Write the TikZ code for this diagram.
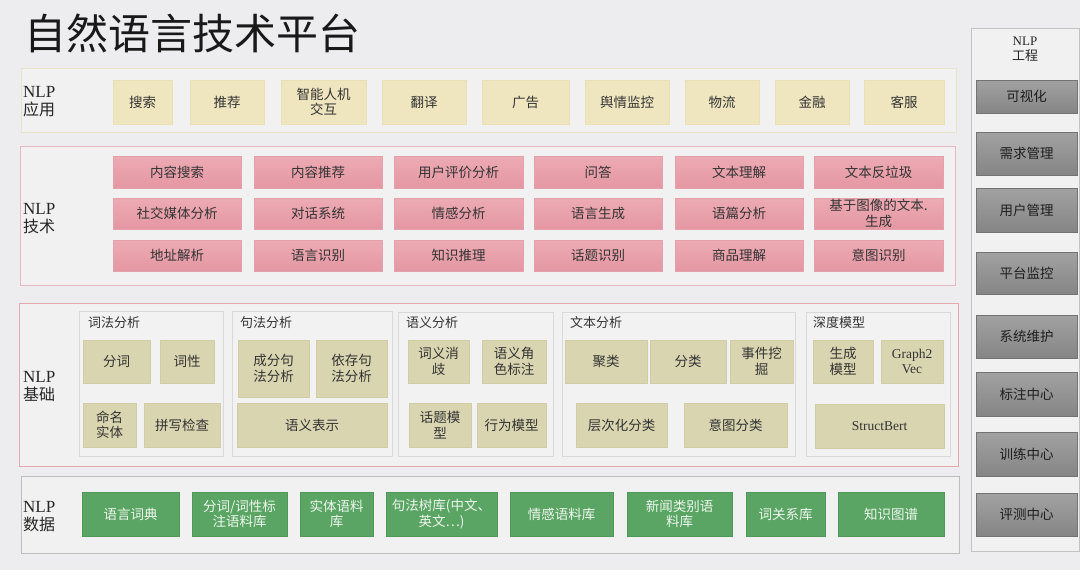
\documentclass[tikz,border=0pt]{standalone}
\usepackage{fontspec}
\setmainfont{Noto Sans CJK SC}
\newfontfamily\lat{Liberation Serif}
\definecolor{pageBg}{HTML}{EDEDEF}
\definecolor{layerFill}{HTML}{F1F1F1}
\definecolor{panelFill}{HTML}{F2F2F2}
\definecolor{panelDraw}{HTML}{D9D9D9}
\definecolor{appLine}{HTML}{E8E4CC}
\definecolor{appFill}{HTML}{EFE6BF}
\definecolor{appDraw}{HTML}{EAE0B6}
\definecolor{techLine}{HTML}{E9B8C0}
\definecolor{techTop}{HTML}{EDABB4}
\definecolor{techBot}{HTML}{E497A2}
\definecolor{techDraw}{HTML}{E5A1AB}
\definecolor{baseLine}{HTML}{E7A7B0}
\definecolor{baseFill}{HTML}{D9D5B0}
\definecolor{baseDraw}{HTML}{D0CCA4}
\definecolor{dataLine}{HTML}{BDBDBD}
\definecolor{dataFill}{HTML}{5AA564}
\definecolor{dataDraw}{HTML}{4E9858}
\definecolor{dataText}{HTML}{EEF6EE}
\definecolor{engLine}{HTML}{C2C2C2}
\definecolor{engTop}{HTML}{A2A2A2}
\definecolor{engBot}{HTML}{858585}
\definecolor{engDraw}{HTML}{737373}
\definecolor{engText}{HTML}{1E1E1E}
\definecolor{boxText}{HTML}{333333}
\tikzset{
  spot/.style n args={4}{at={({(#1+#3)/2},{(#2+#4)/2})},
                 minimum width={(#3-#1)*1pt}, minimum height={(#4-#2)*1pt}},
  box/.style   ={inner sep=0pt, align=center, text=boxText, line width=0.5pt,
                 font=\fontsize{13.5}{15.5}\selectfont},
  app/.style   ={box, fill=appFill, draw=appDraw},
  tech/.style  ={box, draw=techDraw, top color=techTop, bottom color=techBot},
  base/.style  ={box, fill=baseFill, draw=baseDraw},
  data/.style  ={box, fill=dataFill, draw=dataDraw, text=dataText},
  eng/.style   ={box, draw=engDraw, top color=engTop, bottom color=engBot, text=engText},
  layer/.style ={inner sep=0pt, line width=0.7pt, fill=layerFill},
  panel/.style ={inner sep=0pt, line width=0.6pt, draw=panelDraw, fill=panelFill},
  lbl/.style   ={anchor=west, align=left, inner sep=0pt, text=black!85,
                 font=\fontsize{16}{18}\selectfont},
  ttl/.style   ={anchor=west, inner sep=0pt, text=boxText, font=\fontsize{13}{15}\selectfont},
}
\begin{document}
\begin{tikzpicture}[x=1pt, y=-1pt]
  \fill[pageBg] (0,0) rectangle (1080,570);
  \node[anchor=west, inner sep=0pt, text=black!90, font=\fontsize{42}{46}\selectfont]
        (title) at (24,33) {自然语言技术平台};

  % layers
  \node[layer, draw=appLine,  spot={21}{68}{956}{132}]  (appLayer)  {};
  \node[layer, draw=techLine, spot={20}{146}{955}{285}] (techLayer) {};
  \node[layer, draw=baseLine, spot={19}{303}{958}{466}] (baseLayer) {};
  \node[layer, draw=dataLine, spot={21}{476}{959}{553}] (dataLayer) {};
  \node[layer, draw=engLine,  spot={971}{28}{1079}{551}] (engLayer) {};

  \node[lbl] (appLbl)  at (23,102) {{\lat\fontsize{17}{18}\selectfont NLP}\\应用};
  \node[lbl] (techLbl) at (23,219) {{\lat\fontsize{17}{18}\selectfont NLP}\\技术};
  \node[lbl] (baseLbl) at (23,386) {{\lat\fontsize{17}{18}\selectfont NLP}\\基础};
  \node[lbl] (dataLbl) at (23,517) {{\lat\fontsize{17}{18}\selectfont NLP}\\数据};
  \node[align=center, inner sep=0pt, text=black!85, font=\fontsize{13}{15}\selectfont]
        (engLbl) at (1025,49) {{\lat NLP}\\工程};

  % NLP applications
  \foreach \n/\a/\b/\t in {1/113/172/搜索, 2/190/264/推荐, 3/281/366/智能人机\\交互,
      4/382/466/翻译, 5/482/569/广告, 6/585/669/舆情监控, 7/685/759/物流,
      8/775/849/金融, 9/864/944/客服}
    \node[app, spot={\a}{80}{\b}{124}] (app\n) {\t};

  % NLP technology
  \foreach \c/\a/\b/\p/\q/\r in {1/113/241/内容搜索/社交媒体分析/地址解析,
      2/254/382/内容推荐/对话系统/语言识别,
      3/394/523/用户评价分析/情感分析/知识推理,
      4/534/662/问答/语言生成/话题识别,
      5/675/803/文本理解/语篇分析/商品理解,
      6/814/943/文本反垃圾/{基于图像的文本.\\生成}/意图识别}
  {
    \node[tech, spot={\a}{156}{\b}{188}] (tech\c a) {\p};
    \node[tech, spot={\a}{198}{\b}{229}] (tech\c b) {\q};
    \node[tech, spot={\a}{240}{\b}{271}] (tech\c c) {\r};
  }

  % NLP basics
  \node[panel, spot={79}{311}{223}{456}]  (lexPanel) {};
  \node[panel, spot={232}{311}{392}{456}] (synPanel) {};
  \node[panel, spot={398}{312}{553}{456}] (semPanel) {};
  \node[panel, spot={562}{312}{795}{456}] (txtPanel) {};
  \node[panel, spot={806}{312}{950}{456}] (dlPanel)  {};
  \node[ttl] (lexTtl) at (88,323)  {词法分析};
  \node[ttl] (synTtl) at (240,323) {句法分析};
  \node[ttl] (semTtl) at (406,323) {语义分析};
  \node[ttl] (txtTtl) at (570,323) {文本分析};
  \node[ttl] (dlTtl)  at (813,323) {深度模型};

  \node[base, spot={83}{340}{150}{383}]  (seg)    {分词};
  \node[base, spot={160}{340}{214}{383}] (pos)    {词性};
  \node[base, spot={83}{403}{136}{447}]  (ner)    {命名\\实体};
  \node[base, spot={144}{403}{220}{447}] (spell)  {拼写检查};
  \node[base, spot={238}{340}{309}{397}] (cparse) {成分句\\法分析};
  \node[base, spot={316}{340}{387}{397}] (dparse) {依存句\\法分析};
  \node[base, spot={237}{403}{387}{447}] (semrep) {语义表示};
  \node[base, spot={408}{340}{469}{383}] (wsd)    {词义消\\歧};
  \node[base, spot={482}{340}{546}{383}] (srl)    {语义角\\色标注};
  \node[base, spot={409}{403}{471}{447}] (topic)  {话题模\\型};
  \node[base, spot={477}{403}{546}{447}] (behav)  {行为模型};
  \node[base, spot={565}{340}{647}{383}] (clust)  {聚类};
  \node[base, spot={650}{340}{726}{383}] (classf) {分类};
  \node[base, spot={730}{340}{793}{383}] (event)  {事件挖\\掘};
  \node[base, spot={576}{403}{667}{447}] (hier)   {层次化分类};
  \node[base, spot={684}{403}{787}{447}] (intent) {意图分类};
  \node[base, spot={813}{340}{873}{383}] (gen)    {生成\\模型};
  \node[base, spot={881}{340}{943}{383}] (g2v)    {\lat Graph2\\\lat Vec};
  \node[base, spot={815}{404}{944}{448}] (sbert)  {\lat StructBert};

  % NLP data
  \foreach \n/\a/\b/\t in {1/82/179/语言词典, 2/192/287/{分词/词性标\\注语料库},
      3/300/373/实体语料\\库, 4/386/497/句法树库(中文、\\英文…), 5/510/613/情感语料库,
      6/627/732/新闻类别语\\料库, 7/746/825/词关系库, 8/838/944/知识图谱}
    \node[data, spot={\a}{492}{\b}{536}] (data\n) {\t};

  % NLP engineering
  \node[eng, spot={976}{80}{1077}{113}] (eng1) {可视化};
  \foreach \n/\a/\b/\t in {2/132/175/需求管理, 3/188/232/用户管理, 4/252/294/平台监控,
      5/315/358/系统维护, 6/372/416/标注中心, 7/432/476/训练中心, 8/493/536/评测中心}
    \node[eng, spot={976}{\a}{1077}{\b}] (eng\n) {\t};
\end{tikzpicture}
\end{document}
